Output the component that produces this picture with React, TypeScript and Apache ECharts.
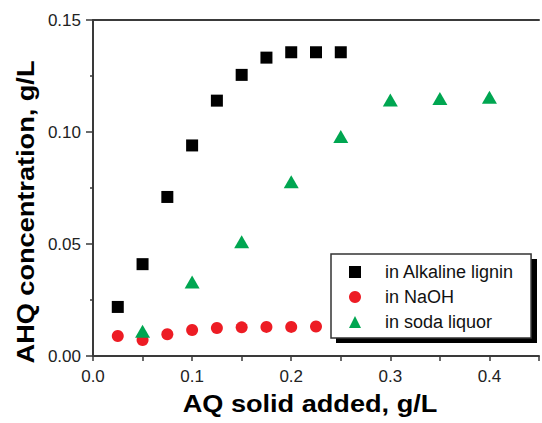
import React, { useEffect, useRef } from "react";
import * as echarts from "echarts";

const aqAdded = [0.025, 0.05, 0.075, 0.1, 0.125, 0.15, 0.175, 0.2, 0.225, 0.25];
const ligninAHQ = [0.0219, 0.041, 0.071, 0.094, 0.114, 0.1255, 0.1332, 0.1356, 0.1356, 0.1356];

const naohX = [0.025, 0.05, 0.075, 0.1, 0.125, 0.15, 0.175, 0.2, 0.225];
const naohAHQ = [0.0089, 0.0071, 0.0097, 0.0116, 0.0125, 0.0128, 0.013, 0.013, 0.0132];

const sodaX = [0.05, 0.1, 0.15, 0.2, 0.25, 0.3, 0.35, 0.4];
const sodaAHQ = [0.011, 0.033, 0.051, 0.0778, 0.098, 0.1143, 0.1149, 0.1155];

const seriesNames = ["in Alkaline lignin", "in NaOH", "in soda liquor"];
const xTitle = "AQ solid added, g/L";
const yTitle = "AHQ concentration, g/L";

const FONT = "'Liberation Sans', Arial, sans-serif";

export default function App() {
  const ref = useRef<HTMLDivElement>(null);
  useEffect(() => {
    if (!ref.current) return;
    const chart = echarts.init(ref.current, null, { renderer: "svg" });
    const zip = (xs: number[], ys: number[]) => xs.map((x, i) => [x, ys[i]]);
    chart.setOption({
      animation: false,
      backgroundColor: "#fff",
      grid: { left: 93, top: 20, right: -4, bottom: 67 },
      xAxis: [
        {
          type: "value",
          min: 0,
          max: 0.45,
          interval: 0.05,
          axisLine: { lineStyle: { color: "#3a3a3a", width: 2 } },
          axisTick: { inside: false, length: 5, lineStyle: { color: "#3a3a3a", width: 1.5 } },
          splitLine: { show: false },
          axisLabel: {
            margin: 12,
            color: "#222",
            fontSize: 17,
            fontFamily: FONT,
            formatter: (v: number) => (Math.round(v * 100) % 10 === 0 ? v.toFixed(1) : ""),
          },
        },
        {
          type: "value",
          position: "top",
          min: 0,
          max: 0.45,
          axisLine: { show: true, lineStyle: { color: "#3a3a3a", width: 2 } },
          axisTick: { show: false },
          axisLabel: { show: false },
          splitLine: { show: false },
        },
      ],
      yAxis: {
        type: "value",
        min: 0,
        max: 0.15,
        interval: 0.05,
        axisLine: { show: true, lineStyle: { color: "#3a3a3a", width: 2 } },
        axisTick: { show: true, length: 7, lineStyle: { color: "#3a3a3a", width: 1.5 } },
        minorTick: { show: true, splitNumber: 2, length: 3, lineStyle: { color: "#3a3a3a", width: 1.5 } },
        splitLine: { show: false },
        axisLabel: {
          margin: 12,
          color: "#222",
          fontSize: 17,
          fontFamily: FONT,
          formatter: (v: number) => v.toFixed(2),
        },
      },
      legend: {
        orient: "vertical",
        left: 331,
        top: 254,
        padding: [9, 17, 7, 18],
        itemWidth: 12,
        itemHeight: 12,
        itemGap: 7,
        backgroundColor: "#fff",
        borderColor: "#333",
        borderWidth: 1.5,
        data: seriesNames,
        textStyle: { fontSize: 18, fontFamily: FONT, color: "#111", padding: [0, 0, 0, 19] },
      },
      graphic: [
        {
          type: "rect",
          z: 3,
          shape: { x: 336, y: 259, width: 201, height: 84 },
          style: { fill: "#000" },
        },
        {
          type: "text",
          x: 310,
          y: 404,
          scaleX: 1.18,
          style: {
            text: xTitle,
            font: `bold 23px ${FONT}`,
            fill: "#000",
            align: "center",
            verticalAlign: "middle",
          },
        },
        {
          type: "text",
          x: 26,
          y: 212,
          rotation: Math.PI / 2,
          scaleX: 1.18,
          style: {
            text: yTitle,
            font: `bold 23px ${FONT}`,
            fill: "#000",
            align: "center",
            verticalAlign: "middle",
          },
        },
      ],
      series: [
        {
          name: seriesNames[0],
          type: "scatter",
          symbol: "rect",
          symbolSize: 12,
          itemStyle: { color: "#000", opacity: 1 },
          data: zip(aqAdded, ligninAHQ),
        },
        {
          name: seriesNames[1],
          type: "scatter",
          symbol: "circle",
          symbolSize: 12,
          itemStyle: { color: "#ed1c24", opacity: 1 },
          data: zip(naohX, naohAHQ),
        },
        {
          name: seriesNames[2],
          type: "scatter",
          symbol: "triangle",
          symbolSize: [15, 13],
          itemStyle: { color: "#00a651", opacity: 1 },
          data: zip(sodaX, sodaAHQ),
        },
      ],
    });
    return () => chart.dispose();
  }, []);
  return <div ref={ref} style={{ width: 542, height: 423, position: "absolute", left: 0, top: 0 }} />;
}
